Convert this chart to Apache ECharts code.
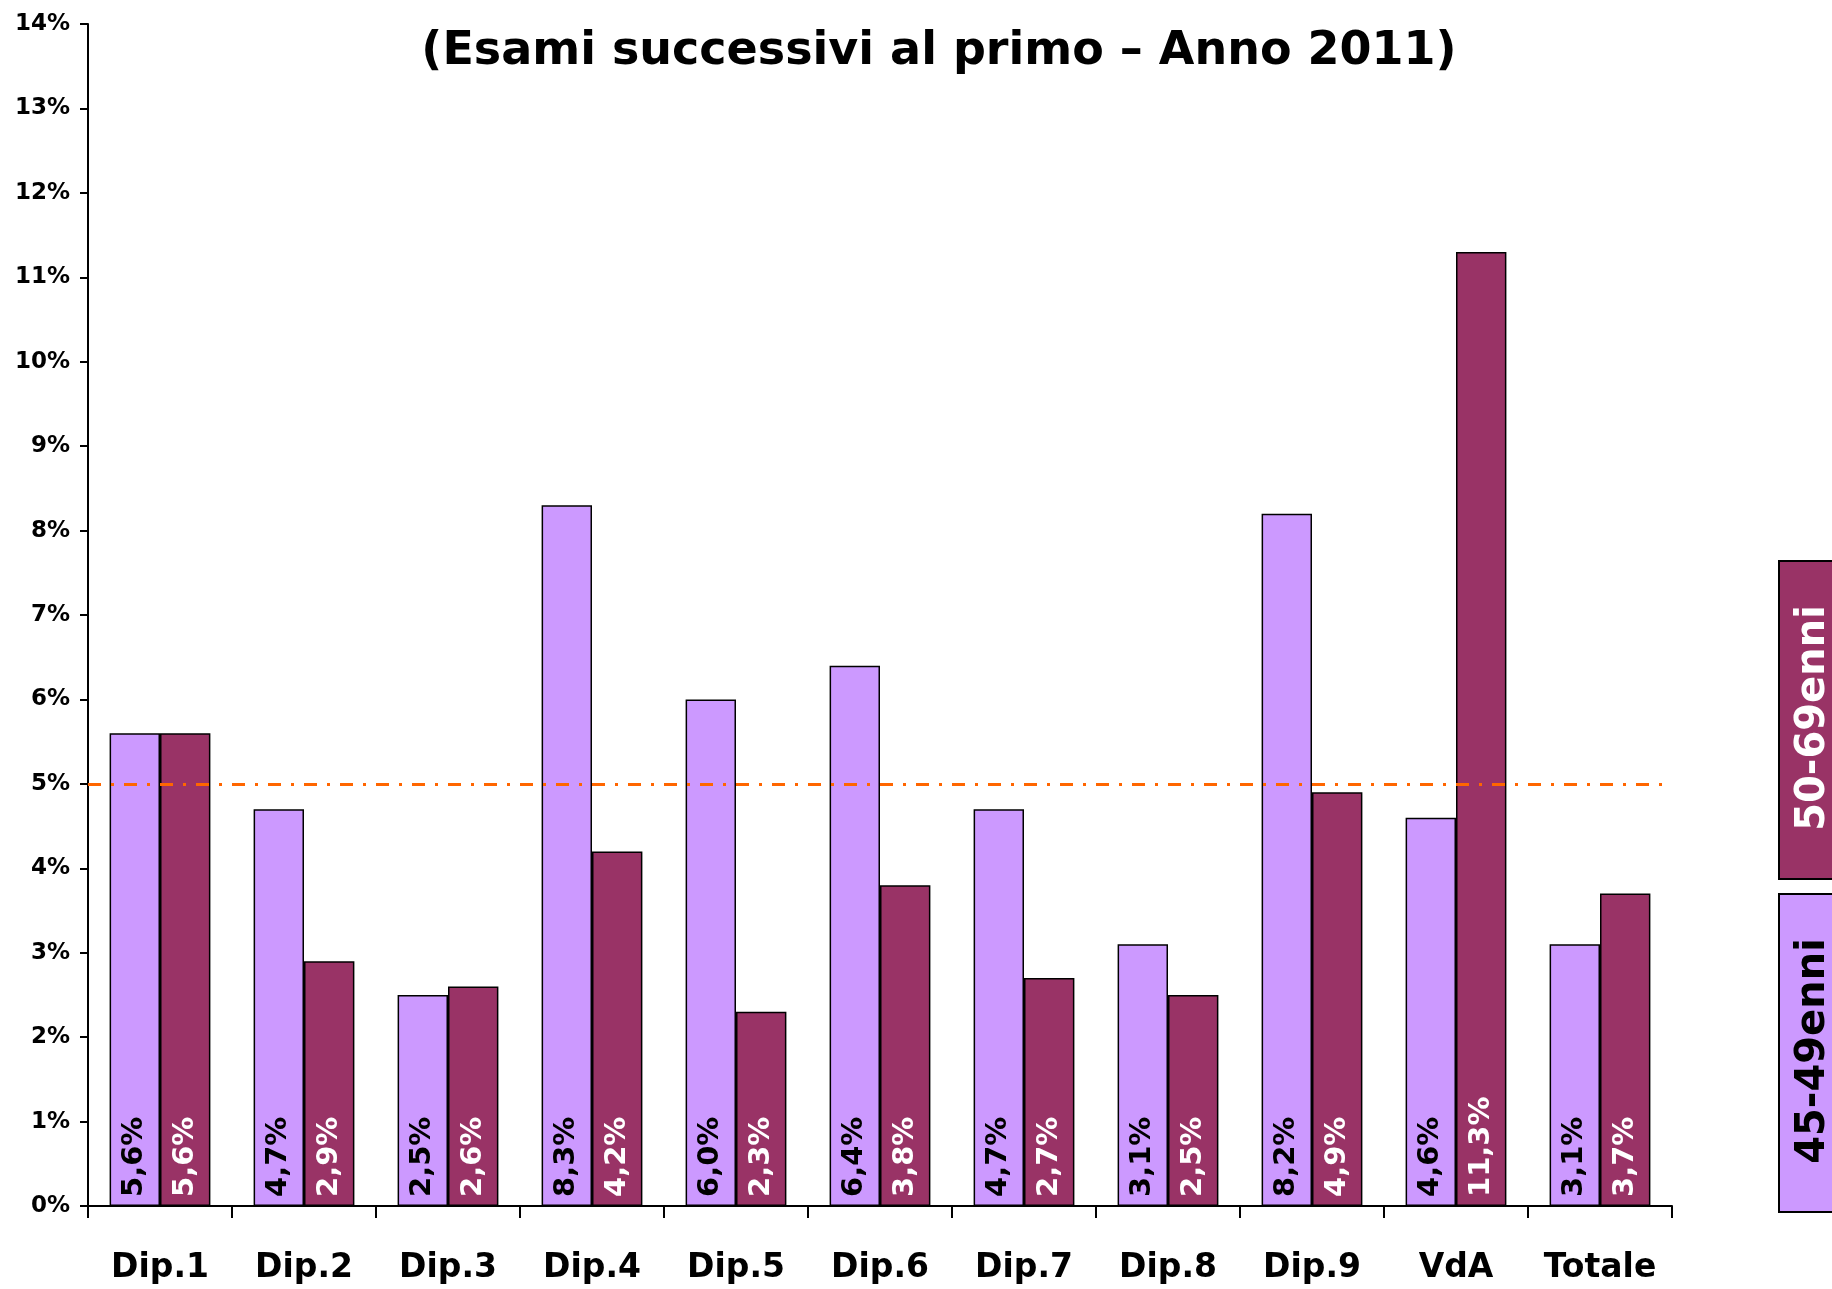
<!DOCTYPE html>
<html>
<head>
<meta charset="utf-8">
<script src="https://cdn.jsdelivr.net/npm/echarts@6/dist/echarts.min.js"></script>
<style>
  html, body { margin: 0; padding: 0; background: #fff; }
  #chart { width: 1832px; height: 1289px; }
</style>
</head>
<body>
<div id="chart"></div>
<script>
// dati
const categories = ['Dip.1', 'Dip.2', 'Dip.3', 'Dip.4', 'Dip.5', 'Dip.6', 'Dip.7', 'Dip.8', 'Dip.9', 'VdA', 'Totale']
const eta45_49 = [5.6, 4.7, 2.5, 8.3, 6.0, 6.4, 4.7, 3.1, 8.2, 4.6, 3.1]
const eta50_69 = [5.6, 2.9, 2.6, 4.2, 2.3, 3.8, 2.7, 2.5, 4.9, 11.3, 3.7]
const soglia = 5

const FONT = '"DejaVu Sans", sans-serif'

const fmt = (p) => p.value.toFixed(1).replace('.', ',') + '%'

const barLabel = (color) => ({
  show: true,
  position: 'insideBottom',
  rotate: 90,
  align: 'left',
  verticalAlign: 'middle',
  distance: 9,
  color: color,
  fontFamily: FONT,
  fontWeight: 'bold',
  fontSize: 29,
  formatter: fmt
})

const myChart = echarts.init(document.getElementById('chart'))

myChart.setOption({
  animation: false,
  title: {
    text: '(Esami successivi al primo – Anno 2011)',
    left: 934,
    top: 24,
    textAlign: 'center',
    textStyle: {
      fontFamily: FONT,
      fontWeight: 'bold',
      fontSize: 46,
      color: '#000'
    }
  },
  grid: { left: 88, right: 160, top: 24, bottom: 83, containLabel: false },
  xAxis: {
    type: 'category',
    data: categories,
    axisLine: { lineStyle: { color: '#000', width: 2 } },
    axisTick: { show: true, interval: 0, length: 12, lineStyle: { color: '#000', width: 2 } },
    axisLabel: {
      interval: 0,
      color: '#000',
      fontFamily: FONT,
      fontWeight: 'bold',
      fontSize: 33,
      margin: 46
    }
  },
  yAxis: {
    type: 'value',
    min: 0,
    max: 14,
    interval: 1,
    splitLine: { show: false },
    axisLine: { show: true, lineStyle: { color: '#000', width: 2 } },
    axisTick: { show: true, length: 8, lineStyle: { color: '#000', width: 2 } },
    axisLabel: {
      color: '#000',
      fontFamily: FONT,
      fontWeight: 'bold',
      fontSize: 23,
      margin: 18,
      formatter: '{value}%'
    }
  },
  series: [
    {
      name: '45-49enni',
      type: 'bar',
      data: eta45_49,
      barGap: '0%',
      barCategoryGap: '30%',
      itemStyle: { color: '#CC99FF', borderColor: '#000', borderWidth: 1.5 },
      label: barLabel('#000'),
      markLine: {
        silent: true,
        symbol: 'none',
        label: { show: false },
        lineStyle: { color: '#FF6600', width: 3, type: [13, 10, 3, 10] },
        data: [{ yAxis: soglia }]
      }
    },
    {
      name: '50-69enni',
      type: 'bar',
      data: eta50_69,
      itemStyle: { color: '#993366', borderColor: '#000', borderWidth: 1.5 },
      label: barLabel('#fff')
    }
  ],
  graphic: [
    {
      type: 'rect',
      shape: { x: 1779, y: 561, width: 70, height: 318 },
      style: { fill: '#993366', stroke: '#000', lineWidth: 2 }
    },
    {
      type: 'text',
      x: 1814, y: 718,
      rotation: Math.PI / 2,
      style: {
        text: '50-69enni',
        fill: '#fff',
        font: 'bold 40px ' + FONT,
        align: 'center',
        verticalAlign: 'middle'
      }
    },
    {
      type: 'rect',
      shape: { x: 1779, y: 894, width: 70, height: 318 },
      style: { fill: '#CC99FF', stroke: '#000', lineWidth: 2 }
    },
    {
      type: 'text',
      x: 1814, y: 1051,
      rotation: Math.PI / 2,
      style: {
        text: '45-49enni',
        fill: '#000',
        font: 'bold 40px ' + FONT,
        align: 'center',
        verticalAlign: 'middle'
      }
    }
  ]
})
</script>
</body>
</html>
